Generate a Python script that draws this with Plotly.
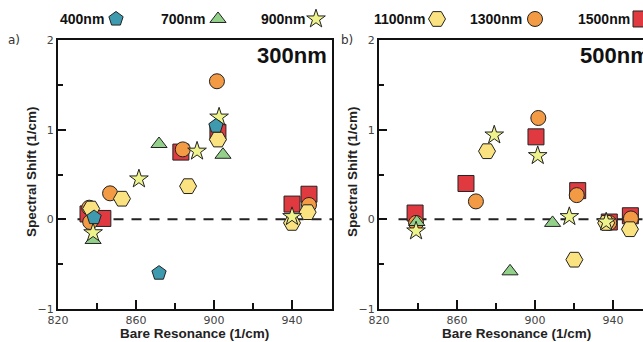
import plotly.graph_objects as go

# ---- data: spectral shift vs bare resonance, per probe wavelength ----
wavelengths = ["400nm", "700nm", "900nm", "1100nm", "1300nm", "1500nm"]
symbols = ["pentagon", "triangle-up", "star", "hexagon2", "circle", "square"]
colors = ["#3E9BAF", "#93D18B", "#EEF38C", "#F9E27F", "#F39A45", "#E03A40"]
sizes = [15, 14, 14, 17, 15, 16]

# panel a) 300nm
a_400_x = [838.5, 871.8, 901.0]
a_400_y = [0.02, -0.60, 1.04]
a_700_x = [871.8, 904.6, 838.0]
a_700_y = [0.84, 0.72, -0.23]
a_900_x = [861.5, 891.3, 902.6, 838.0, 940.0]
a_900_y = [0.45, 0.76, 1.14, -0.15, 0.03]
a_1100_x = [886.7, 852.8, 837.0, 902.0, 940.0, 948.0]
a_1100_y = [0.37, 0.23, 0.12, 0.89, -0.04, 0.08]
a_1300_x = [901.5, 846.7, 884.0, 836.0, 836.5, 948.7]
a_1300_y = [1.54, 0.29, 0.78, 0.13, -0.03, 0.16]
a_1500_x = [883.0, 902.0, 835.4, 843.0, 940.0, 948.7]
a_1500_y = [0.75, 0.97, 0.06, 0.01, 0.17, 0.28]

# panel b) 500nm
b_400_x = []
b_400_y = []
b_700_x = [839.4, 887.2, 909.0]
b_700_y = [-0.03, -0.58, -0.04]
b_900_x = [879.1, 901.4, 839.0, 917.6, 936.5]
b_900_y = [0.94, 0.71, -0.13, 0.03, -0.03]
b_1100_x = [875.4, 920.2, 948.7, 936.5]
b_1100_y = [0.76, -0.45, -0.11, -0.04]
b_1300_x = [901.7, 869.7, 921.4, 839.0, 938.1, 949.2]
b_1300_y = [1.13, 0.20, 0.27, -0.04, -0.04, 0.01]
b_1500_x = [900.5, 864.6, 838.5, 921.9, 938.1, 948.9]
b_1500_y = [0.92, 0.40, 0.07, 0.32, -0.03, 0.04]

panel_a = [(a_400_x, a_400_y), (a_700_x, a_700_y), (a_900_x, a_900_y),
           (a_1100_x, a_1100_y), (a_1300_x, a_1300_y), (a_1500_x, a_1500_y)]
panel_b = [(b_400_x, b_400_y), (b_700_x, b_700_y), (b_900_x, b_900_y),
           (b_1100_x, b_1100_y), (b_1300_x, b_1300_y), (b_1500_x, b_1500_y)]

# drawing order, back to front
draw_order = [5, 4, 3, 1, 2, 0]

W, H = 643, 342
fig = go.Figure()

def add_panel(data, xa, ya):
    for i in draw_order:
        xs, ys = data[i]
        if not xs:
            continue
        fig.add_trace(go.Scatter(
            x=xs, y=ys, mode="markers", xaxis=xa, yaxis=ya, showlegend=False,
            cliponaxis=False,
            marker=dict(symbol=symbols[i], size=sizes[i], color=colors[i],
                        line=dict(color="#222222", width=1)),
        ))

add_panel(panel_a, "x", "y")
add_panel(panel_b, "x2", "y2")

# custom legend row: label text followed by its symbol
legend_text_right = [106, 207, 307, 427, 524, 632]
legend_marker_x = [116, 218, 316, 437, 535, 641]
for i in range(len(wavelengths)):
    fig.add_trace(go.Scatter(
        x=[legend_marker_x[i]], y=[0.5], mode="markers", xaxis="x3", yaxis="y3",
        showlegend=False, cliponaxis=False,
        marker=dict(symbol=symbols[i], size=sizes[i], color=colors[i],
                    line=dict(color="#222222", width=1)),
    ))
    fig.add_annotation(
        x=legend_text_right[i] / W, y=1 - 19 / H, xref="paper", yref="paper",
        xanchor="right", yanchor="middle", showarrow=False, text=wavelengths[i],
        font=dict(family="Liberation Sans", size=14, color="#111111", weight="bold"),
    )

tick_font = dict(family="DejaVu Sans", size=11, color="#444444")
title_font = dict(family="Liberation Sans", size=13.5, color="#222222", weight="bold")

y_dom = [(H - 309) / H, (H - 40) / H]

def xaxis_cfg(domain, rng, mirror):
    return dict(
        domain=domain, range=rng, showgrid=False, zeroline=False, automargin=False,
        showline=True, linecolor="#111111", linewidth=2, mirror=mirror,
        ticks="inside", ticklen=9, tickwidth=1.5, tickcolor="#111111",
        tick0=820, dtick=40, tickfont=tick_font,
        minor=dict(ticks="inside", ticklen=6, tickwidth=1.5, tickcolor="#111111", dtick=20),
        fixedrange=True,
    )

def yaxis_cfg(anchor, mirror):
    return dict(
        domain=y_dom, range=[-1, 2], anchor=anchor, showgrid=False, zeroline=False,
        automargin=False,
        showline=True, linecolor="#111111", linewidth=2, mirror=mirror,
        ticks="inside", ticklen=8, tickwidth=1.5, tickcolor="#111111",
        tick0=0, dtick=1, tickfont=tick_font,
        minor=dict(ticks="inside", ticklen=5, tickwidth=1.5, tickcolor="#111111", dtick=0.5),
        fixedrange=True,
    )

xa_dom = [58 / W, 332 / W]
xb_dom = [379 / W, 1.0]
xb_max = 820 + (W - 379) * 40 / 78

fig.update_layout(
    width=W, height=H, margin=dict(l=0, r=0, t=0, b=0, pad=0, autoexpand=False),
    paper_bgcolor="white", plot_bgcolor="white", showlegend=False,
    xaxis=xaxis_cfg(xa_dom, [820, 960.5], True),
    yaxis=yaxis_cfg("x", True),
    xaxis2=xaxis_cfg(xb_dom, [820, xb_max], True),
    yaxis2=yaxis_cfg("x2", False),
    xaxis3=dict(domain=[0, 1], range=[0, W], visible=False, fixedrange=True, automargin=False),
    yaxis3=dict(domain=[0.89, 0.999], range=[0, 1], anchor="x3", visible=False,
                fixedrange=True, automargin=False),
)
fig.update_layout(xaxis=dict(anchor="y"), xaxis2=dict(anchor="y2"))

# dashed zero reference lines
for xr, yr, x1 in (("x", "y", 960.5), ("x2", "y2", xb_max)):
    fig.add_shape(type="line", xref=xr, yref=yr, x0=830, x1=x1, y0=0, y1=0,
                  line=dict(color="#222222", width=2, dash="10px,8px"), layer="below")

# axis titles
fig.add_annotation(x=(58 + 332) / 2 / W, y=1 - 333 / H, xref="paper", yref="paper",
                   text="Bare Resonance (1/cm)", showarrow=False, font=title_font,
                   xanchor="center", yanchor="middle")
fig.add_annotation(x=(379 + 653) / 2 / W, y=1 - 333 / H, xref="paper", yref="paper",
                   text="Bare Resonance (1/cm)", showarrow=False, font=title_font,
                   xanchor="center", yanchor="middle")
for xp in (31, 352):
    fig.add_annotation(x=xp / W, y=1 - 172 / H, xref="paper", yref="paper",
                       text="Spectral Shift (1/cm)", showarrow=False, font=title_font,
                       textangle=-90, xanchor="center", yanchor="middle")

# panel letters and thickness labels
panel_font = dict(family="DejaVu Sans", size=12, color="#333333")
fig.add_annotation(x=14 / W, y=1 - 40 / H, xref="paper", yref="paper", text="a)",
                   showarrow=False, font=panel_font, xanchor="center", yanchor="middle")
fig.add_annotation(x=347 / W, y=1 - 40 / H, xref="paper", yref="paper", text="b)",
                   showarrow=False, font=panel_font, xanchor="center", yanchor="middle")
big_font = dict(family="Liberation Sans", size=22, color="#111111", weight="bold")
fig.add_annotation(x=921, y=1.83, xref="x", yref="y", text="300nm", showarrow=False,
                   font=big_font, xanchor="left", yanchor="middle")
fig.add_annotation(x=922, y=1.83, xref="x2", yref="y2", text="500nm", showarrow=False,
                   font=big_font, xanchor="left", yanchor="middle")

fig.write_html("out.html")
